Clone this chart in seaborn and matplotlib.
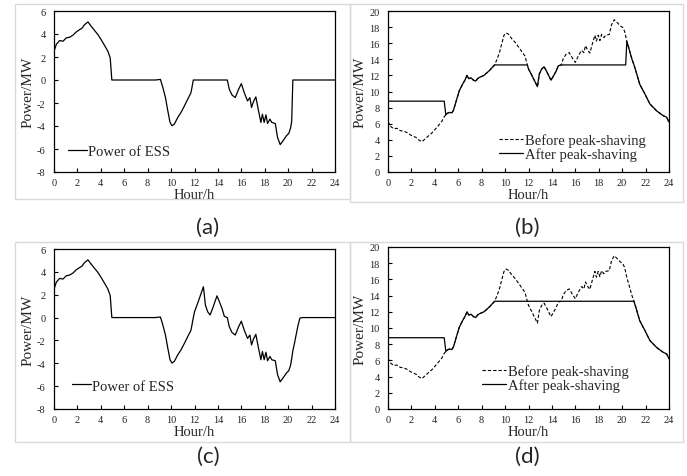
import numpy as np
import pandas as pd
import matplotlib
matplotlib.use("Agg")
import matplotlib.pyplot as plt
from matplotlib.patches import Rectangle
import seaborn as sns

# ==========================================
# Data
# ==========================================
hours = [0.0, 0.2, 0.48, 0.77, 1.05, 1.34, 1.62, 1.9, 2.19, 2.39, 2.6, 2.9, 3.18, 3.47,
         3.75, 4.03, 4.32, 4.6, 4.8, 4.94, 5.08, 5.25, 5.46, 5.6, 5.8, 6.09, 6.37, 6.6,
         6.75, 6.9, 7.09, 7.3, 7.5, 7.65, 7.8, 8.2, 8.66, 9.09, 9.3, 9.52, 9.72, 9.91,
         10.08, 10.28, 10.57, 10.85, 11.14, 11.42, 11.7, 11.9, 12.0, 12.27, 12.56, 12.76,
         12.93, 13.13, 13.33, 13.55, 13.75, 13.92, 14.12, 14.35, 14.55, 14.8, 14.97, 15.2,
         15.48, 15.77, 16.0, 16.25, 16.53, 16.73, 16.87, 17.04, 17.24, 17.44, 17.67, 17.8,
         17.95, 18.1, 18.24, 18.44, 18.6, 18.9, 19.09, 19.32, 19.57, 19.86, 20.05, 20.2,
         20.3, 20.4, 20.55, 20.7, 20.85, 21.0, 21.2, 21.5, 21.94, 22.37, 22.94, 23.5,
         23.8, 24.0]
load_before = [6.3, 5.7, 5.37, 5.43, 5.14, 5.08, 4.9, 4.62, 4.42, 4.3, 4.0, 3.75, 4.13, 4.5,
               4.85, 5.3, 5.8, 6.3, 6.87, 7.1, 7.3, 7.4, 7.35, 7.7, 8.7, 10.1, 10.9, 11.5,
               12.0, 11.6, 11.7, 11.4, 11.3, 11.6, 11.75, 12.0, 12.6, 13.25, 13.96, 14.83, 15.98, 16.99,
               17.28, 17.13, 16.56, 16.12, 15.55, 14.97, 14.4, 13.3, 12.8, 12.05, 11.2, 10.6,
               12.2, 12.8, 13.07, 12.5, 11.9, 11.4, 11.9, 12.5, 13.2, 13.3, 14.1, 14.6,
               14.83, 14.1, 13.62, 14.4, 15.12, 14.83, 15.69, 15.17, 14.77, 15.84, 16.99, 16.27,
               16.99, 16.33, 17.08, 16.7, 16.99, 17.08, 18.29, 18.92, 18.57, 18.14, 17.95, 17.5,
               16.9, 16.2, 15.5, 14.7, 13.95, 13.35, 12.4, 10.9, 9.7, 8.45, 7.6, 7.0,
               6.8, 6.2]

# valley filling / peak shaving settings
CHARGE_LEVEL = 8.8
CHARGE_END = 4.8
PEAK_LEVEL = 13.3
peak_windows_b = [(9.09, 11.9), (14.8, 20.3)]
peak_windows_d = [(9.09, 21.0)]

t = np.array(hours)
load = np.array(load_before)


def shave(windows):
    after = load.copy()
    after[t <= CHARGE_END] = CHARGE_LEVEL
    for lo, hi in windows:
        after[(t >= lo) & (t <= hi)] = PEAK_LEVEL
    return after


after_b = shave(peak_windows_b)
after_d = shave(peak_windows_d)
df = pd.DataFrame({"Hour": t, "Before": load,
                   "After_b": after_b, "After_d": after_d,
                   "ESS_a": after_b - load, "ESS_c": after_d - load})

# ==========================================
# Figure
# ==========================================
sns.set_theme(style="ticks")
plt.rcParams["font.family"] = ["Liberation Serif", "DejaVu Serif"]
plt.rcParams["axes.unicode_minus"] = False

W, H = 687, 477
fig = plt.figure(figsize=(W / 100, H / 100), dpi=100)


def px_axes(left, top, right, bottom):
    return fig.add_axes([left / W, 1 - bottom / H, (right - left) / W, (bottom - top) / H])


def px_frame(left, top, right, bottom):
    fig.patches.append(Rectangle((left / W, 1 - bottom / H), (right - left) / W, (bottom - top) / H,
                                 transform=fig.transFigure, fill=False, ec="#d9d9d9", lw=1.0))


def style(ax, ylim, yticks, ylab_x):
    ax.set_xlim(0, 24)
    ax.set_xticks(range(0, 25, 2))
    ax.set_ylim(*ylim)
    ax.set_yticks(yticks)
    for s in ax.spines.values():
        s.set_visible(True)
        s.set_color("black")
        s.set_linewidth(0.9)
    ax.tick_params(direction="in", length=3, width=0.8, labelsize=7.5, pad=4,
                   color="black", labelcolor="#222222")
    ax.tick_params(axis="y", pad=6)
    ax.set_xlabel("Hour/h", fontsize=10.5)
    ax.xaxis.label.set_verticalalignment("center")
    ax.xaxis.set_label_coords(0.5, -0.14)
    ax.set_ylabel("Power/MW", fontsize=11)
    ax.yaxis.label.set_verticalalignment("center")
    ax.yaxis.set_label_coords(ylab_x, 0.5)


px_frame(15, 5, 350, 200)
px_frame(350, 5, 683, 203)
px_frame(15, 243, 350, 443)
px_frame(350, 243, 683, 443)

ax_a = px_axes(54, 12, 335, 173)
ax_b = px_axes(388, 12, 669, 173)
ax_c = px_axes(54, 250, 335, 410)
ax_d = px_axes(388, 248, 669, 410)

# --- ESS power panels ---
for ax, col, anchor in [(ax_a, "ESS_a", (0.05, 0.13)), (ax_c, "ESS_c", (0.065, 0.144))]:
    sns.lineplot(data=df, x="Hour", y=col, ax=ax, color="black", lw=0.9,
                 estimator=None, sort=False, label="Power of ESS")
    style(ax, (-8, 6), range(-8, 7, 2), -0.094)
    ax.legend(loc="center left", bbox_to_anchor=anchor, frameon=False, fontsize=10.5,
              handlelength=1.3, handletextpad=0.05, borderpad=0, borderaxespad=0)

# --- load panels ---
for ax, col, anchor in [(ax_b, "After_b", (0.395, 0.155)), (ax_d, "After_d", (0.335, 0.19))]:
    sns.lineplot(data=df, x="Hour", y="Before", ax=ax, color="black", lw=0.8,
                 linestyle=(0, (3, 1.8)), estimator=None, sort=False, label="Before peak-shaving")
    sns.lineplot(data=df, x="Hour", y=col, ax=ax, color="black", lw=0.9,
                 estimator=None, sort=False, label="After peak-shaving")
    style(ax, (0, 20), range(0, 21, 2), -0.1)
    ax.legend(loc="center left", bbox_to_anchor=anchor, frameon=False, fontsize=10.5,
              handlelength=1.65, handletextpad=0.1, labelspacing=0.0, borderpad=0, borderaxespad=0)

# panel captions
for label, x, y in [("(a)", 208, 228), ("(b)", 527, 228), ("(c)", 208, 457), ("(d)", 527, 457)]:
    fig.text(x / W, 1 - y / H, label, ha="center", va="center", fontsize=16, family="Lato")

fig.savefig("out.png", dpi=100)
